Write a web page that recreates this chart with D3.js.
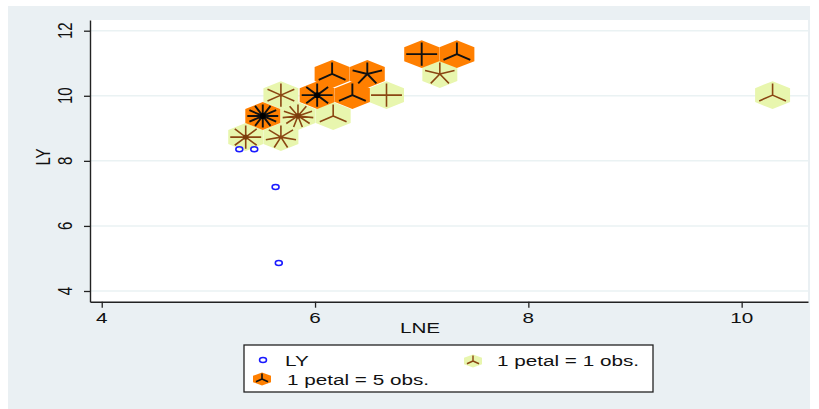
<!DOCTYPE html>
<html>
<head>
<meta charset="utf-8">
<script src="https://cdn.jsdelivr.net/npm/d3@7"></script>
<style>
  body { margin: 0; background: #fff; }
  text { font-family: 'Liberation Sans', Arial, sans-serif; fill: #111; }
</style>
</head>
<body>
<svg id="chart" width="819" height="409"></svg>
<script>

// light sunflowers: 1 petal = 1 obs.
const lightX = [5.35, 5.68, 5.68, 5.84, 6.17, 6.67, 7.17, 10.29]
const lightY = [8.73, 8.73, 10.02, 9.38, 9.38, 10.02, 10.67, 10.02]
const lightPetals = [8, 7, 6, 11, 3, 4, 5, 3]

// dark sunflowers: 1 petal = 5 obs.
const darkX = [5.51, 6.02, 6.16, 6.35, 6.49, 7.00, 7.33]
const darkY = [9.38, 10.02, 10.67, 10.02, 10.67, 11.28, 11.28]
const darkPetals = [12, 8, 3, 3, 5, 4, 3]

// single observations drawn as points
const pointX = [5.29, 5.43, 5.63, 5.66]
const pointY = [8.36, 8.36, 7.20, 4.86]

const xTicks = [4, 6, 8, 10]
const yTicks = [4, 6, 8, 10, 12]
const legendLabels = ['LY', '1 petal = 1 obs.', '1 petal = 5 obs.']

// the picture is stretched sideways, so text is too
const SX = 1.38

const svg = d3.select('#chart')

const plot = { left: 90, right: 808, top: 20, bottom: 301.7 }

const x = d3.scaleLinear().domain([3.89, 10.622]).range([plot.left, plot.right])
const y = d3.scaleLinear().domain([3.671, 12.329]).range([plot.bottom, plot.top])

// bin half width / half height in data units
const binHalfW = 0.164
const binHalfH = 0.43
const petalX = 0.145
const petalY = 0.355

svg.append('rect').attr('x', 8).attr('y', 6).attr('width', 802).attr('height', 403).attr('fill', '#eaf0f3')
svg.append('rect').attr('x', plot.left).attr('y', plot.top)
    .attr('width', plot.right - plot.left).attr('height', plot.bottom - plot.top).attr('fill', '#fff')

// grid
svg.append('g').selectAll('line').data(yTicks).enter().append('line')
    .attr('x1', plot.left).attr('x2', plot.right)
    .attr('y1', d => y(d)).attr('y2', d => y(d))
    .attr('stroke', '#eaf2f3').attr('stroke-width', 1.5)

function text (g, px, py, str, size, anchor, rotate) {
    return g.append('text')
        .attr('transform', `translate(${px},${py}) scale(${SX},1)` + (rotate ? ' rotate(-90)' : ''))
        .attr('text-anchor', anchor)
        .style('font-size', size + 'px')
        .text(str)
}

function hexPath (cx, cy, hw, hh) {
    // pointy top hexagon, in pixels
    const pts = [[0, -hh], [hw, -hh / 2], [hw, hh / 2], [0, hh], [-hw, hh / 2], [-hw, -hh / 2]]
    return 'M' + pts.map(p => (cx + p[0]) + ',' + (cy + p[1])).join('L') + 'Z'
}

function petalPath (cx, cy, n, rx, ry) {
    let d = ''
    for (let k = 0; k < n; k++) {
        const a = Math.PI / 2 + k * 2 * Math.PI / n
        d += `M${cx},${cy}L${cx + rx * Math.cos(a)},${cy - ry * Math.sin(a)}`
    }
    return d
}

const hw = x(binHalfW) - x(0)
const hh = y(0) - y(binHalfH)
const prx = x(petalX) - x(0)
const pry = y(0) - y(petalY)

const light = lightX.map((v, i) => ({ x: v, y: lightY[i], n: lightPetals[i] }))
const dark = darkX.map((v, i) => ({ x: v, y: darkY[i], n: darkPetals[i] }))

svg.append('g').selectAll('path').data(light).enter().append('path')
    .attr('d', d => hexPath(x(d.x), y(d.y), hw, hh))
    .attr('fill', '#e8f6ae')

svg.append('g').selectAll('path').data(dark).enter().append('path')
    .attr('d', d => hexPath(x(d.x), y(d.y), hw, hh))
    .attr('fill', '#ff7f00')

svg.append('g').selectAll('path').data(light).enter().append('path')
    .attr('d', d => petalPath(x(d.x), y(d.y), d.n, prx, pry))
    .attr('stroke', '#8a4612').attr('stroke-width', 1.6).attr('fill', 'none')

svg.append('g').selectAll('path').data(dark).enter().append('path')
    .attr('d', d => petalPath(x(d.x), y(d.y), d.n, prx, pry))
    .attr('stroke', '#111').attr('stroke-width', 1.9).attr('fill', 'none')

// crowded centres merge into a blob
svg.append('g').selectAll('circle').data(light.filter(d => d.n >= 8)).enter().append('circle')
    .attr('cx', d => x(d.x)).attr('cy', d => y(d.y)).attr('r', 2.6).attr('fill', '#7a3c0c')
svg.append('g').selectAll('circle').data(dark.filter(d => d.n >= 8)).enter().append('circle')
    .attr('cx', d => x(d.x)).attr('cy', d => y(d.y)).attr('r', 3).attr('fill', '#000')

svg.append('g').selectAll('ellipse').data(pointX).enter().append('ellipse')
    .attr('cx', d => x(d)).attr('cy', (d, i) => y(pointY[i]))
    .attr('rx', 3.5).attr('ry', 2.5)
    .attr('fill', 'none').attr('stroke', '#1a1aff').attr('stroke-width', 1.5)

// axes
const xAxis = d3.axisBottom(x).tickValues(xTicks).tickSize(6).tickSizeOuter(0).tickFormat('')
const yAxis = d3.axisLeft(y).tickValues(yTicks).tickSize(6).tickSizeOuter(0).tickFormat('')

svg.append('g').attr('transform', `translate(0,${plot.bottom})`).call(xAxis)
svg.append('g').attr('transform', `translate(${plot.left},0)`).call(yAxis)
svg.selectAll('.domain').attr('stroke', '#222').attr('stroke-width', 1.4)
svg.selectAll('.tick line').attr('stroke', '#222').attr('stroke-width', 1.3)

const labels = svg.append('g')
xTicks.forEach(v => text(labels, x(v), 323, v, 15, 'middle'))
yTicks.forEach(v => text(labels, 72, y(v), v, 15, 'middle', true))
text(labels, 420, 333, 'LNE', 15, 'middle')
text(labels, 50, 157, 'LY', 15, 'middle', true)

// legend
const lg = svg.append('g')
lg.append('rect').attr('x', 244).attr('y', 345).attr('width', 409).attr('height', 47)
    .attr('fill', '#fff').attr('stroke', '#222').attr('stroke-width', 1.3)

lg.append('ellipse').attr('cx', 263).attr('cy', 360).attr('rx', 3.5).attr('ry', 2.5)
    .attr('fill', 'none').attr('stroke', '#1a1aff').attr('stroke-width', 1.5)
text(lg, 285, 366, legendLabels[0], 15, 'start')

lg.append('path').attr('d', hexPath(473, 361, 9, 6.5)).attr('fill', '#e8f6ae')
lg.append('path').attr('d', petalPath(473, 361, 3, 7, 5.5)).attr('stroke', '#8a4612').attr('stroke-width', 1.4)
text(lg, 497, 366, legendLabels[1], 15, 'start')

lg.append('path').attr('d', hexPath(262, 379, 9, 6.5)).attr('fill', '#ff7f00')
lg.append('path').attr('d', petalPath(262, 379, 3, 7, 5.5)).attr('stroke', '#111').attr('stroke-width', 1.6)
text(lg, 287, 385, legendLabels[2], 15, 'start')

</script>
</body>
</html>
